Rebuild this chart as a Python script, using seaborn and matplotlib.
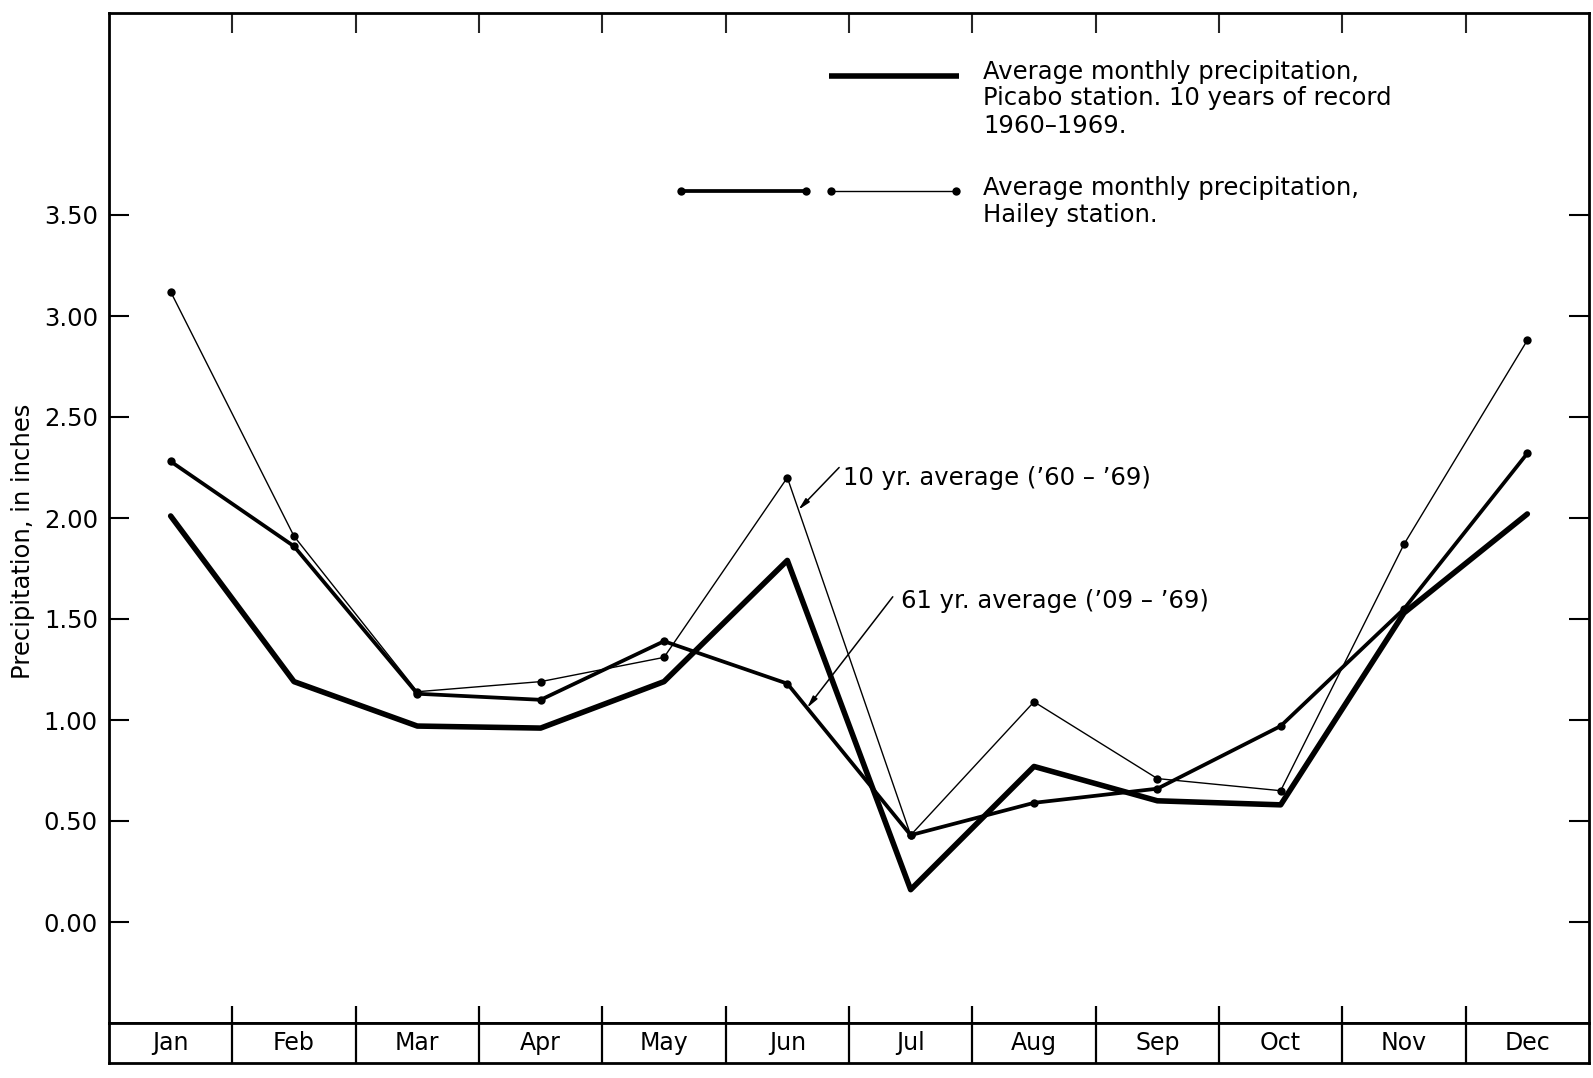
import matplotlib
matplotlib.use("Agg")
import matplotlib.pyplot as plt
import numpy as np
import pandas as pd
import seaborn as sns

# Average monthly precipitation, in inches
months = ["Jan", "Feb", "Mar", "Apr", "May", "Jun",
          "Jul", "Aug", "Sep", "Oct", "Nov", "Dec"]
picabo_10yr = [2.01, 1.19, 0.97, 0.96, 1.19, 1.79, 0.16, 0.77, 0.60, 0.58, 1.53, 2.02]
hailey_61yr = [2.28, 1.86, 1.13, 1.10, 1.39, 1.18, 0.43, 0.59, 0.66, 0.97, 1.55, 2.32]
hailey_10yr = [3.12, 1.91, 1.14, 1.19, 1.31, 2.20, 0.43, 1.09, 0.71, 0.65, 1.87, 2.88]
y_ticks = [0.00, 0.50, 1.00, 1.50, 2.00, 2.50, 3.00, 3.50]

sns.set_style("white")
plt.rcParams["font.family"] = ["DejaVu Sans"]

df = pd.DataFrame({
    "pos": np.arange(len(months)),
    "month": months,
    "picabo_10yr": picabo_10yr,
    "hailey_61yr": hailey_61yr,
    "hailey_10yr": hailey_10yr,
})

W, H = 1593, 1078
fig = plt.figure(figsize=(W / 100, H / 100), dpi=100)
left, right = 109, 1589
top, bottom = 13, 1023
row_bottom = 1063
ax = fig.add_axes([left / W, (H - bottom) / H, (right - left) / W, (bottom - top) / H])
axm = fig.add_axes([left / W, (H - row_bottom) / H, (right - left) / W, (row_bottom - bottom) / H])

ink = "black"
thick_lw, mid_lw, thin_lw = 4.0, 2.7, 1.0
dot = dict(marker="o", markersize=6, markeredgewidth=0, markerfacecolor=ink)

# Picabo station: heavy line, no markers
sns.lineplot(data=df, x="pos", y="picabo_10yr", ax=ax, color=ink,
             linewidth=thick_lw, errorbar=None)
# Hailey station, 61-year average: medium line with dots
sns.lineplot(data=df, x="pos", y="hailey_61yr", ax=ax, color=ink,
             linewidth=mid_lw, errorbar=None, **dot)
# Hailey station, 10-year average: thin line with dots
sns.lineplot(data=df, x="pos", y="hailey_10yr", ax=ax, color=ink,
             linewidth=thin_lw, errorbar=None, **dot)

n = len(months)
ax.set_xlim(-0.5, n - 0.5)
ax.set_ylim(-0.5, 4.5)
ax.set_xlabel("")
ax.set_ylabel("")

ax.set_yticks(y_ticks)
ax.set_yticklabels([f"{v:.2f}" for v in y_ticks])
ax.tick_params(axis="y", direction="in", length=14.4, width=1.5,
               left=True, right=True, labelsize=17.5, pad=8, colors=ink)
boundaries = np.arange(0.5, n - 0.5, 1.0)
ax.set_xticks(boundaries)
ax.tick_params(axis="x", direction="in", length=14.4, width=1.5,
               top=True, bottom=False, labelbottom=False, labeltop=False)
for s in ax.spines.values():
    s.set_linewidth(2.0)
    s.set_color(ink)

# Month strip below the plot
axm.set_xlim(-0.5, n - 0.5)
axm.set_ylim(0, 1)
axm.set_xticks([])
axm.set_yticks([])
for s in axm.spines.values():
    s.set_linewidth(2.0)
    s.set_color(ink)
axm.vlines(boundaries, 0, 1 + 17 / 40, color=ink, linewidth=1.6, clip_on=False)
for i, m in enumerate(months):
    axm.text(i, 0.5, m, ha="center", va="center", fontsize=17, color=ink)

# Axis title
fig.text(23 / W, 1 - 541 / H, "Precipitation, in inches", rotation=90,
         ha="center", va="center", fontsize=17.5, color=ink)

# Curve labels with arrows
pos = df["pos"].to_numpy()
arrow = dict(arrowstyle="-|>,head_length=0.7,head_width=0.16",
             color=ink, lw=1.1, shrinkA=0, shrinkB=0)
x10 = 5.09
ax.annotate("", xy=(x10, np.interp(x10, pos, hailey_10yr)), xytext=(5.42, 2.25),
            arrowprops=arrow)
ax.text(5.45, 2.20, "10 yr. average (\u201960 \u2013 \u201969)", ha="left", va="center",
        fontsize=17.5, color=ink)
x61 = 5.16
ax.annotate("", xy=(x61, np.interp(x61, pos, hailey_61yr)), xytext=(5.855, 1.61),
            arrowprops=arrow)
ax.text(5.92, 1.59, "61 yr. average (\u201909 \u2013 \u201969)", ha="left", va="center",
        fontsize=17.5, color=ink)

# Key
tA = ax.transAxes
ax.plot([0.4867, 0.5742], [0.938, 0.938], transform=tA, color=ink, linewidth=thick_lw,
        solid_capstyle="butt")
for yy, line in zip([0.942, 0.916, 0.888],
                    ["Average monthly precipitation,",
                     "Picabo station. 10 years of record",
                     "1960\u20131969."]):
    ax.text(0.5908, yy, line, transform=tA, ha="left", va="center", fontsize=17.5, color=ink)
ax.plot([0.3867, 0.4708], [0.824, 0.824], transform=tA, color=ink, linewidth=mid_lw, **dot)
ax.plot([0.4875, 0.5725], [0.824, 0.824], transform=tA, color=ink, linewidth=thin_lw, **dot)
for yy, line in zip([0.827, 0.800],
                    ["Average monthly precipitation,", "Hailey station."]):
    ax.text(0.5908, yy, line, transform=tA, ha="left", va="center", fontsize=17.5, color=ink)

fig.savefig("out.png", dpi=100, facecolor="white")
